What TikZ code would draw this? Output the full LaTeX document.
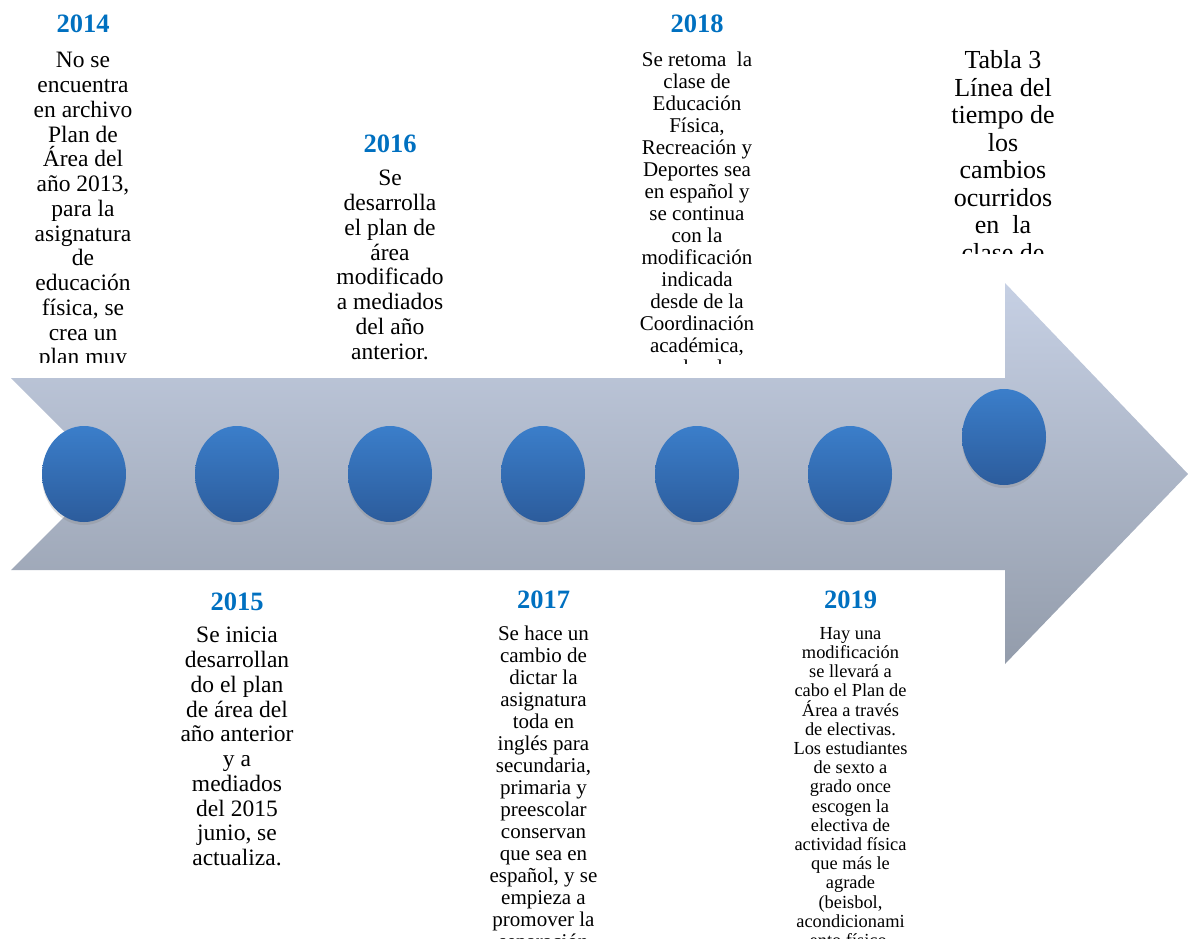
\documentclass[tikz,border=0pt]{standalone}
\usepackage{fontspec}
\setmainfont{Liberation Serif}
\usetikzlibrary{shapes.geometric,shadows}
\definecolor{yearblue}{HTML}{0070C0}
\definecolor{arrowtop}{HTML}{C6D0E4}
\definecolor{arrowbot}{HTML}{939CAB}
\definecolor{dottop}{HTML}{3B7ECA}
\definecolor{dotbot}{HTML}{2C5C9C}
\begin{document}
\begin{tikzpicture}[x=1pt,y=-1pt,
  dot/.style={ellipse, minimum width=84pt, minimum height=96pt, inner sep=0pt,
    top color=dottop, bottom color=dotbot,
    drop shadow={shadow xshift=0pt, shadow yshift=-3pt, opacity=0.25}},
  yr/.style={anchor=base, inner sep=0pt, text=yearblue,
    font=\fontsize{26.5}{30}\selectfont\bfseries},
  bodyL/.style={anchor=north, inner sep=0pt, align=center,
    font=\fontsize{23.5}{24.75}\selectfont},
  bodyM/.style={anchor=north, inner sep=0pt, align=center,
    font=\fontsize{21}{22}\selectfont},
  bodyS/.style={anchor=north, inner sep=0pt, align=center,
    font=\fontsize{18.4}{19.2}\selectfont},
  bodyT/.style={anchor=north, inner sep=0pt, align=center,
    font=\fontsize{26}{27.5}\selectfont}]
\useasboundingbox (0,0) rectangle (1188,939);
\clip (0,0) rectangle (1188,939);

% arrow
\shade[top color=arrowtop, bottom color=arrowbot]
  (11,378) -- (1005,378) -- (1005,283) -- (1188,474) -- (1005,664)
  -- (1005,570) -- (11,570) -- (107,474) -- cycle;

% dots
\node[dot] (c1) at (84,474) {};
\node[dot] (c2) at (237,474) {};
\node[dot] (c3) at (390,474) {};
\node[dot] (c4) at (543,474) {};
\node[dot] (c5) at (697,474) {};
\node[dot] (c6) at (850,474) {};
\node[dot] (c7) at (1004,437) {};

% years
\node[yr] (y2014) at (83,33) {2014};
\node[yr] (y2016) at (390,153) {2016};
\node[yr] (y2018) at (697,33) {2018};
\node[yr] (y2015) at (237,610) {2015};
\node[yr] (y2017) at (543.5,608) {2017};
\node[yr] (y2019) at (850.5,608) {2019};

% texts above
\begin{scope}
\clip (0,40) rectangle (180,362);
\node[bodyL] (t2014) at (83,47.6) {\rule{0pt}{20pt}No se\\encuentra\\en archivo\\Plan de\\Área del\\año 2013,\\para la\\asignatura\\de\\educación\\física, se\\crea un\\plan muy};
\end{scope}

\node[bodyL] (t2016) at (390,165.6) {\rule{0pt}{20pt}Se\\desarrolla\\el plan de\\área\\modificado\\a mediados\\del año\\anterior.};

\begin{scope}
\clip (600,40) rectangle (800,363);
\node[bodyM] (t2018) at (697,48) {\rule{0pt}{18pt}Se retoma\ \ la\\clase de\\Educación\\Física,\\Recreación y\\Deportes sea\\en español y\\se continua\\con la\\modificación\\indicada\\desde de la\\Coordinación\\académica,\\se abordan};
\end{scope}

\begin{scope}
\clip (900,40) rectangle (1110,253);
\node[bodyT] (tabla) at (1003,46.5) {\rule{0pt}{22pt}Tabla 3\\Línea del\\tiempo de\\los\\cambios\\ocurridos\\en\ \ la\\clase de};
\end{scope}

% texts below
\node[bodyL] (t2015) at (237,622.6) {\rule{0pt}{20pt}Se inicia\\desarrollan\\do el plan\\de área del\\año anterior\\y a\\mediados\\del 2015\\junio, se\\actualiza.};

\node[bodyM] (t2017) at (543.5,622) {\rule{0pt}{18pt}Se hace un\\cambio de\\dictar la\\asignatura\\toda en\\inglés para\\secundaria,\\primaria y\\preescolar\\conservan\\que sea en\\español, y se\\empieza a\\promover la\\separación};

\node[bodyS] (t2019) at (850.5,623) {\rule{0pt}{16pt}Hay una\\modificación\\se llevará a\\cabo el Plan de\\Área a través\\de electivas.\\Los estudiantes\\de sexto a\\grado once\\escogen la\\electiva de\\actividad física\\que más le\\agrade\\(beisbol,\\acondicionami\\ento físico,};
\end{tikzpicture}
\end{document}
